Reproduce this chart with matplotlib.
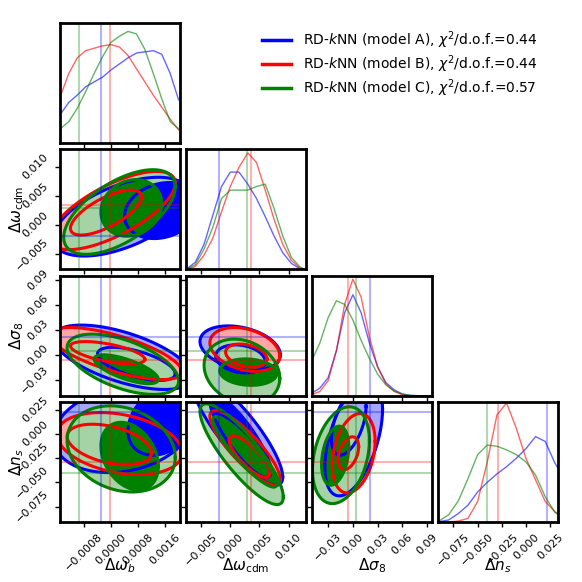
import numpy as np
import matplotlib.pyplot as plt
from matplotlib.lines import Line2D

# parameters (columns / rows of the corner plot)
par_labels = [r"$\Delta\omega_b$", r"$\Delta\omega_{\rm cdm}$", r"$\Delta\sigma_8$", r"$\Delta n_s$"]
par_lims = [(-0.00151, 0.00204), (-0.0076, 0.0130), (-0.0496, 0.0960), (-0.0910, 0.0332)]
par_ticks = [[-0.0008, 0.0, 0.0008, 0.0016],
             [-0.005, 0.0, 0.005, 0.010],
             [-0.03, 0.0, 0.03, 0.06, 0.09],
             [-0.075, -0.050, -0.025, 0.0, 0.025]]
par_ticklabels = [["\u22120.0008", "0.0000", "0.0008", "0.0016"],
                  ["\u22120.005", "0.000", "0.005", "0.010"],
                  ["\u22120.03", "0.00", "0.03", "0.06", "0.09"],
                  ["\u22120.075", "\u22120.050", "\u22120.025", "0.000", "0.025"]]

models = ["A", "B", "C"]
colors = {"A": "blue", "B": "red", "C": "green"}
light = {"A": "#a6a6ff", "B": "#ffa6a6", "C": "#a6d3a6"}
chi2 = {"A": "0.44", "B": "0.44", "C": "0.57"}

# best-fit markers per parameter (A, B, C)
best_wb = [-0.00030, -0.00003, -0.00095]
best_wcdm = [-0.0019, 0.0035, 0.0029]
best_s8 = [0.0212, -0.0060, 0.0040]
best_ns = [0.0222, -0.0286, -0.0403]
best = [best_wb, best_wcdm, best_s8, best_ns]

# 1D marginals (relative height)
wb_x = [-0.0015, -0.00125, -0.001, -0.00075, -0.0005, -0.00025, 0.0, 0.00025, 0.0005,
        0.00075, 0.001, 0.00125, 0.0015, 0.00175, 0.002]
wb_A = [0.24, 0.34, 0.40, 0.47, 0.51, 0.55, 0.61, 0.66, 0.71, 0.75, 0.76, 0.77, 0.74, 0.58, 0.36]
wb_B = [0.39, 0.58, 0.71, 0.77, 0.79, 0.81, 0.82, 0.80, 0.73, 0.62, 0.51, 0.40, 0.30, 0.20, 0.11]
wb_C = [0.12, 0.18, 0.29, 0.43, 0.58, 0.72, 0.84, 0.89, 0.93, 0.91, 0.78, 0.58, 0.37, 0.18, 0.12]

wcdm_x = [-0.0075, -0.006, -0.0045, -0.003, -0.0015, 0.0, 0.0015, 0.003, 0.0045, 0.006,
          0.0075, 0.009, 0.0105, 0.012, 0.013]
wcdm_A = [0.005, 0.06, 0.21, 0.45, 0.69, 0.81, 0.81, 0.71, 0.59, 0.44, 0.28, 0.14, 0.05, 0.005, 0.0]
wcdm_B = [0.0, 0.025, 0.12, 0.26, 0.48, 0.69, 0.85, 0.97, 0.89, 0.66, 0.42, 0.21, 0.075, 0.01, 0.0]
wcdm_C = [0.003, 0.04, 0.17, 0.35, 0.59, 0.66, 0.66, 0.66, 0.69, 0.71, 0.51, 0.28, 0.10, 0.02, 0.0]

s8_x = [-0.05, -0.04, -0.03, -0.02, -0.01, 0.0, 0.01, 0.02, 0.03, 0.04, 0.05, 0.06, 0.07, 0.08, 0.095]
s8_A = [0.02, 0.064, 0.15, 0.375, 0.69, 0.84, 0.69, 0.44, 0.24, 0.11, 0.05, 0.014, 0.003, 0.0, 0.0]
s8_B = [0.008, 0.036, 0.125, 0.375, 0.76, 0.97, 0.82, 0.49, 0.24, 0.10, 0.036, 0.008, 0.0, 0.0, 0.0]
s8_C = [0.29, 0.44, 0.65, 0.79, 0.76, 0.63, 0.46, 0.31, 0.18, 0.09, 0.04, 0.014, 0.003, 0.0, 0.0]

ns_x = [-0.09, -0.08, -0.07, -0.06, -0.05, -0.04, -0.03, -0.02, -0.01, 0.0, 0.01, 0.02, 0.03, 0.033]
ns_A = [0.003, 0.017, 0.07, 0.14, 0.25, 0.33, 0.40, 0.46, 0.53, 0.61, 0.71, 0.67, 0.49, 0.45]
ns_B = [0.0, 0.0, 0.008, 0.03, 0.17, 0.50, 0.89, 0.99, 0.78, 0.53, 0.35, 0.17, 0.086, 0.07]
ns_C = [0.008, 0.06, 0.175, 0.36, 0.56, 0.64, 0.63, 0.60, 0.56, 0.50, 0.39, 0.21, 0.08, 0.064]

marg_x = [wb_x, wcdm_x, s8_x, ns_x]
marg_y = [{"A": wb_A, "B": wb_B, "C": wb_C},
          {"A": wcdm_A, "B": wcdm_B, "C": wcdm_C},
          {"A": s8_A, "B": s8_B, "C": s8_C},
          {"A": ns_A, "B": ns_B, "C": ns_C}]

# 2D contours: model, level, xmin, xmax, ymin, ymax, correlation
# level: "out" = 95% (light fill), "in" = 68% solid, "line" = 68% outline only
wb_wcdm = [("A", "out", -0.0017, 0.0023, -0.0053, 0.0082, 0.55),
           ("A", "in", 0.0004, 0.0026, -0.0023, 0.0073, 0.20),
           ("B", "out", -0.0018, 0.0019, -0.0042, 0.0092, 0.70),
           ("B", "line", -0.0012, 0.0009, -0.0017, 0.0060, 0.70),
           ("C", "out", -0.0014, 0.0019, -0.0050, 0.0095, 0.60),
           ("C", "in", -0.0003, 0.0015, -0.0019, 0.0078, 0.15)]
wb_s8 = [("A", "out", -0.0017, 0.0024, -0.042, 0.036, -0.60),
         ("A", "line", -0.0004, 0.0019, -0.031, 0.009, -0.60),
         ("B", "out", -0.0018, 0.0021, -0.030, 0.033, -0.70),
         ("B", "line", -0.0012, 0.0010, -0.011, 0.016, -0.60),
         ("C", "out", -0.0013, 0.0020, -0.048, 0.025, -0.55),
         ("C", "in", -0.0005, 0.0014, -0.035, 0.000, -0.70)]
wb_ns = [("A", "out", -0.0017, 0.0024, -0.040, 0.050, 0.20),
         ("A", "in", 0.0005, 0.0026, -0.022, 0.050, 0.30),
         ("B", "out", -0.0016, 0.0021, -0.042, 0.022, -0.30),
         ("B", "line", -0.0013, 0.0012, -0.032, 0.010, -0.40),
         ("C", "out", -0.0013, 0.0019, -0.060, 0.029, -0.20),
         ("C", "in", -0.0003, 0.0014, -0.058, 0.012, -0.30)]
wcdm_s8 = [("A", "out", -0.0052, 0.0086, -0.019, 0.035, -0.30),
           ("A", "line", -0.0025, 0.0060, -0.022, 0.012, -0.20),
           ("B", "out", -0.0035, 0.0085, -0.020, 0.033, -0.30),
           ("B", "line", -0.0008, 0.0063, -0.015, 0.013, -0.30),
           ("C", "out", -0.0045, 0.0085, -0.060, 0.019, -0.20),
           ("C", "in", -0.0018, 0.0080, -0.037, -0.005, -0.10)]
wcdm_ns = [("A", "out", -0.0065, 0.0090, -0.053, 0.060, -0.85),
           ("A", "in", -0.0035, 0.0070, -0.045, 0.040, -0.85),
           ("B", "out", -0.0035, 0.0086, -0.053, 0.024, -0.85),
           ("B", "line", -0.0002, 0.0068, -0.045, -0.002, -0.80),
           ("C", "out", -0.0052, 0.0091, -0.073, 0.031, -0.85),
           ("C", "in", -0.0030, 0.0080, -0.055, 0.018, -0.90)]
s8_ns = [("A", "out", -0.034, 0.036, -0.064, 0.055, 0.50),
         ("A", "line", -0.026, 0.016, -0.022, 0.045, 0.50),
         ("B", "out", -0.025, 0.027, -0.061, 0.021, 0.30),
         ("B", "line", -0.018, 0.007, -0.037, -0.003, 0.40),
         ("C", "out", -0.049, 0.020, -0.072, 0.028, 0.30),
         ("C", "in", -0.038, -0.005, -0.053, 0.008, 0.30)]
contours = {(1, 0): wb_wcdm, (2, 0): wb_s8, (3, 0): wb_ns,
            (2, 1): wcdm_s8, (3, 1): wcdm_ns, (3, 2): s8_ns}


def ellipse(x0, x1, y0, y1, rho):
    t = np.linspace(0, 2 * np.pi, 240)
    cx, cy = (x0 + x1) / 2, (y0 + y1) / 2
    ax_, ay = (x1 - x0) / 2, (y1 - y0) / 2
    return cx + ax_ * np.cos(t), cy + ay * (rho * np.cos(t) + np.sqrt(1 - rho ** 2) * np.sin(t))


fig, axes = plt.subplots(4, 4, figsize=(5.82, 5.82), dpi=100)
fig.subplots_adjust(left=60 / 582, right=558 / 582, bottom=1 - 522 / 582, top=1 - 23 / 582,
                    wspace=0.05, hspace=0.05)

for i in range(4):
    for j in range(4):
        ax = axes[i, j]
        if j > i:
            ax.set_visible(False)
            continue
        for s in ax.spines.values():
            s.set_linewidth(2)
            s.set_zorder(5)
        ax.tick_params(direction="out", length=3.5, width=1, labelsize=8)
        ax.set_xlim(par_lims[j])
        ax.set_xticks(par_ticks[j])
        if i == 3:
            ax.set_xticklabels(par_ticklabels[j], rotation=45, ha="center")
            ax.set_xlabel(par_labels[j], fontsize=11)
            ax.xaxis.set_label_coords(0.5, -0.285)
        else:
            ax.set_xticklabels([])

        if i == j:
            for k, m in enumerate(models):
                ax.plot(marg_x[j], marg_y[j][m], color=colors[m], lw=1, alpha=0.6)
                ax.axvline(best[j][k], color=colors[m], lw=1.5, alpha=0.3)
            ax.set_ylim(0, 1.0)
            ax.set_yticks([])
            continue

        ax.set_ylim(par_lims[i])
        ax.set_yticks(par_ticks[i])
        if j == 0:
            ax.set_yticklabels(par_ticklabels[i], rotation=45, ha="right", va="center")
            ax.set_ylabel(par_labels[i], fontsize=11)
            ax.yaxis.set_label_coords(-0.28, 0.5)
        else:
            ax.set_yticklabels([])

        rows_all = contours[(i, j)]
        # light 95% regions first, then the solid 68% regions, then all outlines
        for level in ["out", "in"]:
            for m in models:
                for r in rows_all:
                    if r[0] == m and r[1] == level:
                        x, y = ellipse(*r[2:])
                        fc = light[m] if level == "out" else colors[m]
                        ax.fill(x, y, color=fc, lw=0)
        for m in models:
            for r in rows_all:
                if r[0] == m:
                    x, y = ellipse(*r[2:])
                    ax.plot(x, y, color=colors[m], lw=2.2)
        for k, m in enumerate(models):
            ax.axvline(best[j][k], color=colors[m], lw=1.5, alpha=0.3)
            ax.axhline(best[i][k], color=colors[m], lw=1.5, alpha=0.3)

handles = [Line2D([], [], color=colors[m], lw=2.5) for m in models]
leg_labels = [r"RD-$k$NN (model %s), $\chi^2$/d.o.f.=%s" % (m, chi2[m]) for m in models]
fig.legend(handles, leg_labels, loc="upper left", bbox_to_anchor=(0.4284, 0.9706),
           frameon=False, fontsize=10, handlelength=2.1, handletextpad=0.85, labelspacing=0.15)

fig.savefig("out.png", dpi=100)
